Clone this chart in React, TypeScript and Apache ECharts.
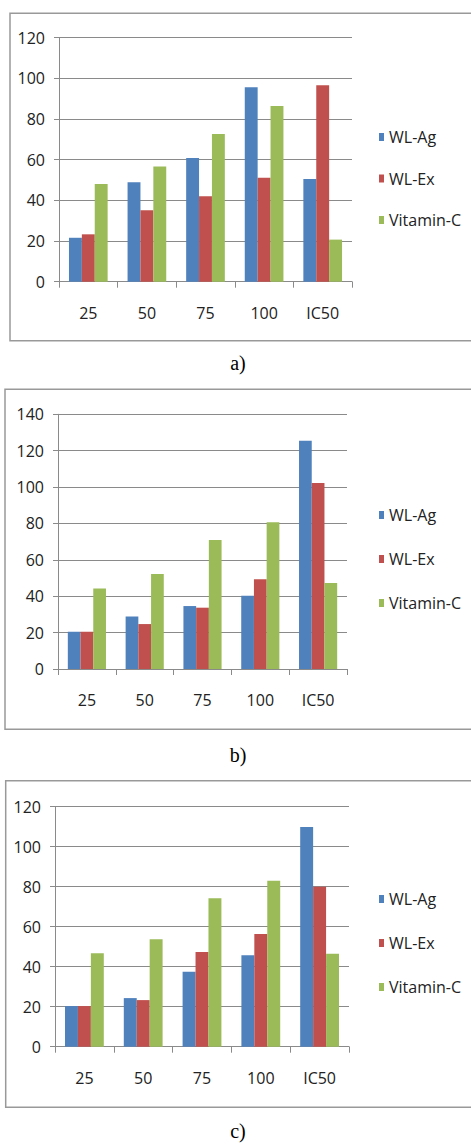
import React, { useEffect, useRef } from "react";
import * as echarts from "echarts";

const categories = ["25", "50", "75", "100", "IC50"];
const seriesNames = ["WL-Ag", "WL-Ex", "Vitamin-C"];
const colors = ["#4F81BD", "#C0504D", "#9BBB59"];

const panelA_WLAg = [21.6, 48.9, 60.8, 95.6, 50.5];
const panelA_WLEx = [23.3, 35.2, 42.0, 51.1, 96.6];
const panelA_VitC = [48.0, 56.6, 72.6, 86.4, 20.7];

const panelB_WLAg = [20.5, 28.8, 34.6, 40.3, 125.5];
const panelB_WLEx = [20.5, 24.7, 33.7, 49.3, 102.3];
const panelB_VitC = [44.3, 52.2, 70.9, 80.6, 47.3];

const panelC_WLAg = [20.3, 24.3, 37.5, 45.7, 109.8];
const panelC_WLEx = [20.3, 23.3, 47.3, 56.3, 80.0];
const panelC_VitC = [46.7, 53.7, 74.2, 83.0, 46.5];

const yMaxes = [120, 140, 120];
const captions = ["a)", "b)", "c)"];

const FONT = "Open Sans";
const TEXT_COLOR = "#222";
const GRID_COLOR = "#8a8a8a";

export default function App() {
  const ref = useRef<HTMLDivElement>(null);
  useEffect(() => {
    document.body.style.margin = "0";
    if (!ref.current) return;
    const chart = echarts.init(ref.current, undefined, { renderer: "svg" });

    const panelData = [
      [panelA_WLAg, panelA_WLEx, panelA_VitC],
      [panelB_WLAg, panelB_WLEx, panelB_VitC],
      [panelC_WLAg, panelC_WLEx, panelC_VitC],
    ];

    const layout = [
      { left: 59, right: 119, top: 37.7, height: 244, legendTop: 124, legendGap: 25.5, frame: { x: 10, y: 13.3, w: 470, h: 327.4 }, capY: 363 },
      { left: 58, right: 124, top: 414.3, height: 254.7, legendTop: 502, legendGap: 28, frame: { x: 5, y: 389.3, w: 475, h: 340 }, capY: 755 },
      { left: 55, right: 122, top: 806.7, height: 240, legendTop: 886, legendGap: 28, frame: { x: 5.7, y: 780.7, w: 475, h: 326.5 }, capY: 1131 },
    ];

    const grids = layout.map((l) => ({ left: l.left, right: l.right, top: l.top, height: l.height }));

    const xAxes = layout.map((_, i) => ({
      type: "category",
      gridIndex: i,
      data: categories,
      axisLine: { show: true, lineStyle: { color: GRID_COLOR, width: 1 } },
      axisTick: { show: true, length: 6, inside: false, lineStyle: { color: GRID_COLOR } },
      axisLabel: { color: TEXT_COLOR, fontFamily: FONT, fontSize: 16, margin: 23 },
      splitLine: { show: false },
    }));

    const yAxes = layout.map((_, i) => ({
      type: "value",
      gridIndex: i,
      min: 0,
      max: yMaxes[i],
      interval: 20,
      axisLine: { show: true, lineStyle: { color: GRID_COLOR, width: 1 } },
      axisTick: { show: true, length: 5, lineStyle: { color: GRID_COLOR } },
      axisLabel: { color: TEXT_COLOR, fontFamily: FONT, fontSize: 16, margin: 14 },
      splitLine: { show: true, lineStyle: { color: GRID_COLOR, width: 1 } },
    }));

    const series: any[] = [];
    panelData.forEach((arrs, i) => {
      arrs.forEach((vals, j) => {
        series.push({
          type: "bar",
          name: seriesNames[j],
          xAxisIndex: i,
          yAxisIndex: i,
          data: vals,
          barGap: "0%",
          barCategoryGap: "34%",
          itemStyle: { color: colors[j] },
          emphasis: { disabled: true },
        });
      });
    });

    const legends = layout.map((l) => ({
      orient: "vertical",
      left: 374,
      top: l.legendTop,
      icon: "rect",
      itemWidth: 5,
      itemHeight: 8,
      itemGap: l.legendGap,
      selectedMode: false,
      data: seriesNames,
      textStyle: { color: TEXT_COLOR, fontFamily: FONT, fontSize: 16, lineHeight: 16 },
    }));

    const graphics: any[] = [];
    layout.forEach((l, i) => {
      graphics.push({
        type: "rect",
        silent: true,
        z: -10,
        shape: { x: l.frame.x, y: l.frame.y, width: l.frame.w, height: l.frame.h },
        style: { fill: "#fff", stroke: "#999", lineWidth: 1.5 },
      });
      graphics.push({
        type: "text",
        silent: true,
        x: 238,
        y: l.capY,
        style: {
          text: captions[i],
          fontFamily: "Liberation Serif",
          fontSize: 20,
          fill: "#000",
          textAlign: "center",
          textVerticalAlign: "middle",
        },
      });
    });

    chart.setOption({
      animation: false,
      backgroundColor: "#fff",
      grid: grids,
      xAxis: xAxes,
      yAxis: yAxes,
      legend: legends,
      series,
      graphic: graphics,
    });

    return () => chart.dispose();
  }, []);

  return <div ref={ref} style={{ width: 471, height: 1144 }} />;
}
